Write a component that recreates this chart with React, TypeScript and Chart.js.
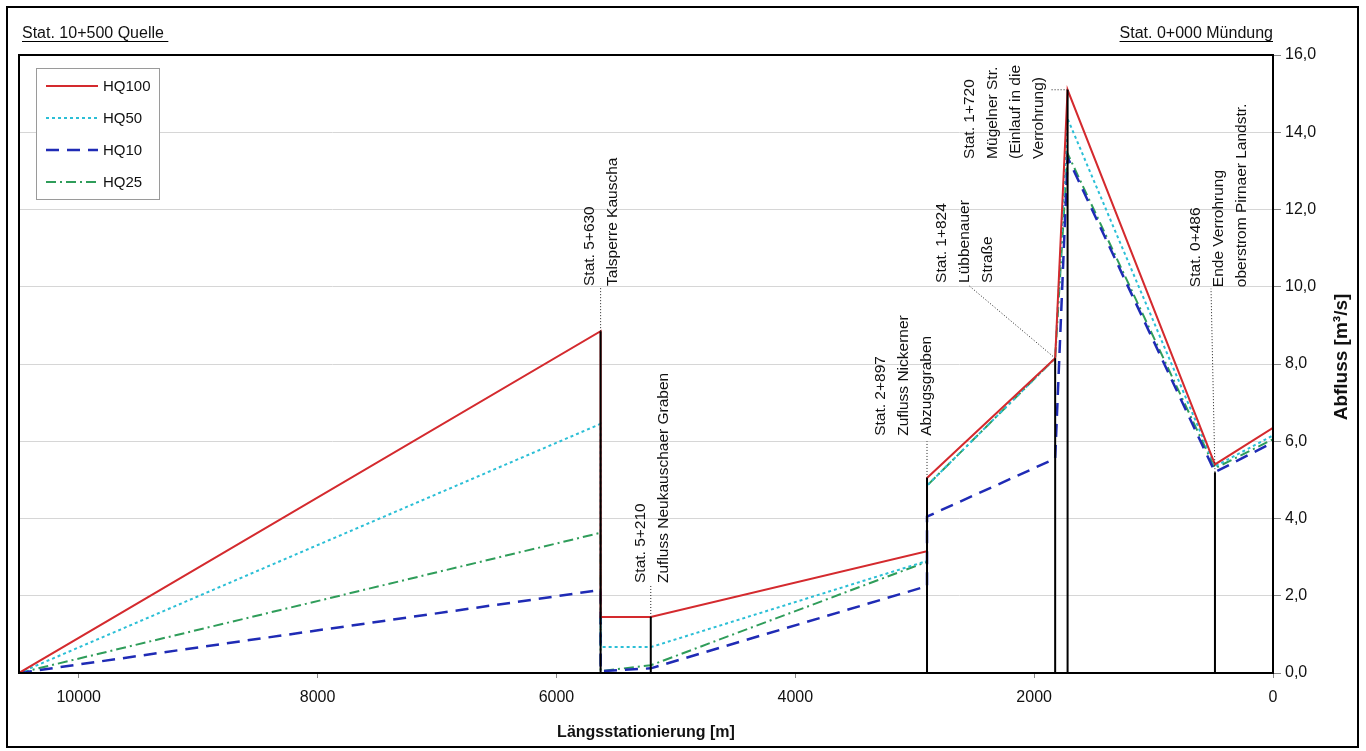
import React, { useEffect, useRef } from "react";
import { Chart, registerables } from "chart.js";

Chart.register(...registerables);

// ---------- data ----------
const seriesLabels = ["HQ100", "HQ50", "HQ10", "HQ25"];
const stationX = [10500, 5630, 5630, 5210, 2897, 2897, 1824, 1720, 486, 0];
const hq100 = [0, 8.85, 1.45, 1.45, 3.15, 5.05, 8.15, 15.1, 5.4, 6.35];
const hq50 = [0, 6.45, 0.67, 0.67, 2.9, 4.85, 8.15, 14.35, 5.35, 6.15];
const hq10 = [0, 2.15, 0.05, 0.12, 2.25, 4.05, 5.55, 13.35, 5.2, 5.97];
const hq25 = [0, 3.63, 0.05, 0.2, 2.88, 4.85, 8.15, 13.45, 5.3, 6.05];

const markerStations = [5630, 5210, 2897, 1824, 1720, 486];
const markerTops = [8.85, 1.45, 5.05, 8.15, 15.1, 5.2];
const leaderEndX = [5630, 5210, 2897, 2554, 1867, 519];
const leaderEndY = [10.0, 2.3, 6.0, 10.05, 15.1, 9.95];

const labelStations = [5719, 5292, 3282, 2771, 2537, 645];
const labelBottoms = [10.02, 2.33, 6.14, 10.1, 13.31, 9.99];
const labelTexts = [
  ["Stat. 5+630", "Talsperre Kauscha"],
  ["Stat. 5+210", "Zufluss Neukauschaer Graben"],
  ["Stat. 2+897", "Zufluss Nickerner", "Abzugsgraben"],
  ["Stat. 1+824", "Lübbenauer", "Straße"],
  ["Stat. 1+720", "Mügelner Str.", "(Einlauf in die", "Verrohrung)"],
  ["Stat. 0+486", "Ende Verrohrung", "oberstrom Pirnaer Landstr."],
];

const xTicks = [10000, 8000, 6000, 4000, 2000, 0];
const yTicks = [0, 2, 4, 6, 8, 10, 12, 14, 16];
const xMin = 0;
const xMax = 10500;
const yMin = 0;
const yMax = 16;

const titleLeft = "Stat. 10+500 Quelle ";
const titleRight = "Stat. 0+000 Mündung";
const xTitle = "Längsstationierung [m]";
const yTitle = "Abfluss [m³/s]";

const FONT = "'Liberation Sans', Arial, sans-serif";

function toPoints(xs: number[], ys: number[]) {
  return xs.map((x, i) => ({ x, y: ys[i] }));
}

function segments(x0: number[], y0: number[], x1: number[], y1: number[]) {
  const pts: any[] = [];
  x0.forEach((x, i) => {
    pts.push({ x, y: y0[i] });
    pts.push({ x: x1[i], y: y1[i] });
    pts.push({ x: x1[i], y: null });
  });
  return pts;
}

const decorPlugin = {
  id: "decor",
  beforeDraw(chart: any) {
    const ctx = chart.ctx;
    ctx.save();
    ctx.fillStyle = "#ffffff";
    ctx.fillRect(0, 0, chart.width, chart.height);
    ctx.restore();
  },
  afterDraw(chart: any) {
    const ctx = chart.ctx;
    const xs = chart.scales.x;
    const ys = chart.scales.y;
    const area = chart.chartArea;
    ctx.save();

    // plot frame
    ctx.strokeStyle = "#000";
    ctx.lineWidth = 2;
    ctx.strokeRect(area.left, area.top, area.right - area.left, area.bottom - area.top);

    // outer frame
    ctx.strokeRect(7, 7, 1351, 740);

    // top titles
    ctx.fillStyle = "#111";
    ctx.font = `16px ${FONT}`;
    ctx.textBaseline = "alphabetic";
    ctx.textAlign = "left";
    ctx.fillText(titleLeft, 22, 38);
    const wl = ctx.measureText(titleLeft).width;
    ctx.lineWidth = 1;
    ctx.beginPath();
    ctx.moveTo(22, 41.5);
    ctx.lineTo(22 + wl, 41.5);
    ctx.stroke();
    ctx.textAlign = "right";
    ctx.fillText(titleRight, area.right, 38);
    const wr = ctx.measureText(titleRight).width;
    ctx.beginPath();
    ctx.moveTo(area.right - wr, 41.5);
    ctx.lineTo(area.right, 41.5);
    ctx.stroke();

    // axis titles
    ctx.font = `bold 16px ${FONT}`;
    ctx.textAlign = "center";
    ctx.textBaseline = "middle";
    ctx.fillText(xTitle, (area.left + area.right) / 2, 733);
    ctx.save();
    ctx.font = `bold 19px ${FONT}`;
    ctx.translate(1342, 357);
    ctx.rotate(-Math.PI / 2);
    ctx.fillText(yTitle, 0, 0);
    ctx.restore();

    // rotated station labels
    ctx.font = `15.5px ${FONT}`;
    ctx.textAlign = "left";
    ctx.textBaseline = "middle";
    labelTexts.forEach((lines, i) => {
      const px = xs.getPixelForValue(labelStations[i]);
      const py = ys.getPixelForValue(labelBottoms[i]);
      lines.forEach((t, j) => {
        ctx.save();
        ctx.translate(px + j * 23, py);
        ctx.rotate(-Math.PI / 2);
        ctx.fillText(t, 0, 0);
        ctx.restore();
      });
    });

    // legend
    const lx = 36, ly = 68, lw = 123, lh = 131;
    ctx.fillStyle = "#fff";
    ctx.fillRect(lx, ly, lw, lh);
    ctx.strokeStyle = "#9a9a9a";
    ctx.lineWidth = 1;
    ctx.strokeRect(lx + 0.5, ly + 0.5, lw, lh);
    ctx.font = `15px ${FONT}`;
    ctx.textAlign = "left";
    ctx.textBaseline = "middle";
    chart.data.datasets.slice(0, seriesLabels.length).forEach((ds: any, i: number) => {
      const yy = 86 + i * 32;
      ctx.save();
      ctx.strokeStyle = ds.borderColor;
      ctx.lineWidth = ds.borderWidth;
      ctx.setLineDash(ds.borderDash || []);
      ctx.beginPath();
      ctx.moveTo(46, yy);
      ctx.lineTo(98, yy);
      ctx.stroke();
      ctx.restore();
      ctx.fillStyle = "#111";
      ctx.fillText(ds.label, 103, yy + 1);
    });

    ctx.restore();
  },
};

export default function App() {
  const ref = useRef<HTMLCanvasElement | null>(null);

  useEffect(() => {
    if (!ref.current) return;
    const colors = ["#d42a2e", "#2bbfd6", "#1f2bb5", "#2f9d5a"];
    const dashes = [[], [3, 3], [13, 8], [10, 4, 2, 4]];
    const widths = [2, 2, 2.5, 2];
    const values = [hq100, hq50, hq10, hq25];

    const hqSets = seriesLabels.map((label, i) => ({
      label,
      data: toPoints(stationX, values[i]),
      borderColor: colors[i],
      borderDash: dashes[i],
      borderWidth: widths[i],
      pointRadius: 0,
      fill: false,
      tension: 0,
      order: 2,
    }));

    const markerData: any[] = [];
    markerStations.forEach((s, i) => {
      markerData.push({ x: s, y: 0 });
      markerData.push({ x: s, y: markerTops[i] });
      markerData.push({ x: s, y: null });
    });

    const chart = new Chart(ref.current, {
      type: "line",
      data: {
        datasets: [
          ...hqSets,
          {
            label: "Stationen",
            data: markerData,
            borderColor: "#000",
            borderWidth: 2,
            pointRadius: 0,
            spanGaps: false,
            order: 1,
          } as any,
          {
            label: "Hinweislinien",
            data: segments(markerStations, markerTops, leaderEndX, leaderEndY),
            borderColor: "#222",
            borderWidth: 1,
            borderDash: [1, 2],
            pointRadius: 0,
            spanGaps: false,
            order: 1,
          } as any,
        ],
      },
      options: {
        responsive: false,
        animation: false,
        events: [],
        layout: { padding: { left: 19, top: 55, right: 0, bottom: 0 } },
        plugins: {
          legend: { display: false },
          tooltip: { enabled: false },
          title: { display: false },
        },
        scales: {
          x: {
            type: "linear",
            reverse: true,
            min: xMin,
            max: xMax,
            afterBuildTicks: (s: any) => {
              s.ticks = xTicks.map((v) => ({ value: v }));
            },
            afterFit: (s: any) => {
              s.height = 78;
            },
            grid: {
              drawOnChartArea: false,
              drawTicks: true,
              tickLength: 5,
              tickColor: "#888",
            },
            border: { display: false },
            ticks: {
              font: { family: FONT, size: 16 },
              color: "#111",
              padding: 10,
              maxRotation: 0,
              callback: (v: any) => String(v),
            },
          },
          y: {
            type: "linear",
            position: "right",
            min: yMin,
            max: yMax,
            afterBuildTicks: (s: any) => {
              s.ticks = yTicks.map((v) => ({ value: v }));
            },
            afterFit: (s: any) => {
              s.width = 93;
            },
            grid: {
              color: "#d6d6d6",
              lineWidth: 1,
              drawTicks: true,
              tickLength: 8,
              tickColor: "#888",
            },
            border: { display: false },
            ticks: {
              font: { family: FONT, size: 16 },
              color: "#111",
              padding: 4,
              callback: (v: any) => Number(v).toFixed(1).replace(".", ","),
            },
          },
        },
      },
      plugins: [decorPlugin],
    });
    return () => chart.destroy();
  }, []);

  return (
    <div style={{ position: "absolute", left: 0, top: 0, width: 1366, height: 751, background: "#fff" }}>
      <canvas ref={ref} width={1366} height={751} style={{ display: "block", width: 1366, height: 751 }} />
    </div>
  );
}
